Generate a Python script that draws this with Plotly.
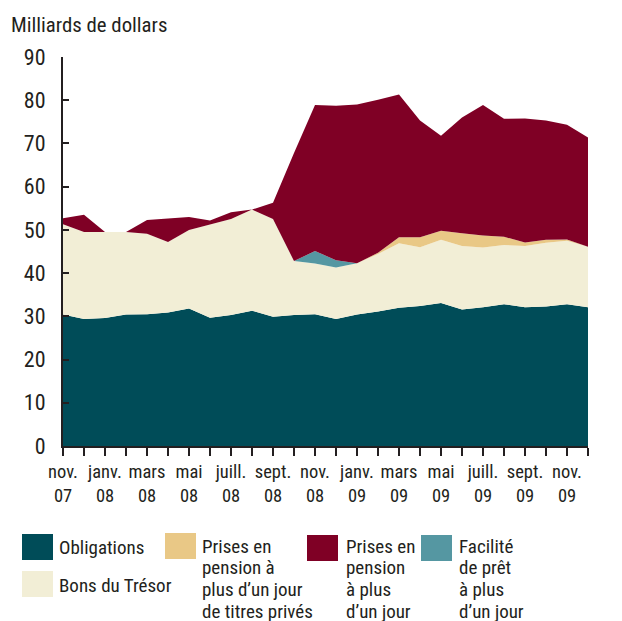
import plotly.graph_objects as go

# Months: nov. 2007 .. dec. 2009
months = ["2007-11", "2007-12", "2008-01", "2008-02", "2008-03", "2008-04", "2008-05",
          "2008-06", "2008-07", "2008-08", "2008-09", "2008-10", "2008-11", "2008-12",
          "2009-01", "2009-02", "2009-03", "2009-04", "2009-05", "2009-06", "2009-07",
          "2009-08", "2009-09", "2009-10", "2009-11", "2009-12"]
tick_labels = ["nov.<br>07", "", "janv.<br>08", "", "mars<br>08", "", "mai<br>08", "",
               "juill.<br>08", "", "sept.<br>08", "", "nov.<br>08", "", "janv.<br>09", "",
               "mars<br>09", "", "mai<br>09", "", "juill.<br>09", "", "sept.<br>09", "",
               "nov.<br>09", ""]

obligations = [30.4, 29.4, 29.6, 30.4, 30.5, 30.9, 31.8, 29.7, 30.3, 31.3, 29.9, 30.3, 30.5,
               29.4, 30.4, 31.1, 32.0, 32.4, 33.1, 31.6, 32.1, 32.8, 32.1, 32.3, 32.8, 32.1]
bons_tresor = [20.9, 20.1, 19.9, 19.1, 18.6, 16.3, 18.2, 21.6, 22.2, 23.4, 22.6, 12.5, 11.7,
               11.9, 11.9, 13.3, 14.9, 13.6, 14.6, 14.7, 13.8, 13.7, 14.2, 14.7, 14.7, 14.0]
pension_prives = [0, 0, 0, 0, 0, 0, 0, 0, 0, 0, 0, 0, 0,
                  0, 0, 0.3, 1.4, 2.3, 2.1, 2.9, 2.8, 1.9, 0.8, 0.7, 0.3, 0]
facilite_pret = [0, 0, 0, 0, 0, 0, 0, 0, 0, 0, 0, 0, 2.9,
                 1.7, 0, 0, 0, 0, 0, 0, 0, 0, 0, 0, 0, 0]
pension = [1.4, 4.0, 0, 0, 3.2, 5.5, 3.0, 0.9, 1.6, 0, 3.8, 25.0, 33.8,
           35.7, 36.7, 35.4, 33.0, 27.0, 22.0, 26.8, 30.2, 27.3, 28.7, 27.6, 26.5, 25.3]

series = [
    ("Obligations", obligations, "#004c58"),
    ("Bons du Trésor", bons_tresor, "#f2eed6"),
    ("Prises en pension à plus d’un jour de titres privés", pension_prives, "#e9c886"),
    ("Facilité de prêt à plus d’un jour", facilite_pret, "#5597a2"),
    ("Prises en pension à plus d’un jour", pension, "#7f0025"),
]

x = list(range(len(months)))
FONT = "Roboto Condensed, Liberation Sans Narrow, Lato, sans-serif"
TXT = "#231f20"

fig = go.Figure()
for name, vals, col in series:
    fig.add_trace(go.Scatter(
        x=x, y=vals, name=name, mode="lines", stackgroup="one",
        line=dict(width=0, color=col), fillcolor=col,
        customdata=months, hovertemplate="%{customdata}: %{y}<extra>" + name + "</extra>",
    ))

# page has an 8px body margin: figure drawn at (8, 8)
OFF = 8
W, H = 622 - OFF, 621 - OFF
X0, X1, Y0, Y1 = 63, 588, 57, 446  # plot area in page pixels
L, R, T, B = X0 - OFF, 622 - X1, Y0 - OFF, 621 - Y1


def px(xp):
    return (xp - X0) / (X1 - X0)


def py(yp):
    return (Y1 - yp) / (Y1 - Y0)


LINE = 21.7
legend_items = [
    (22, 534, 57, 547, ["Obligations"], "#004c58"),
    (22, 571, 57, 585, ["Bons du Trésor"], "#f2eed6"),
    (165, 533, 200, 546, ["Prises en", "pension à", "plus d’un jour", "de titres privés"], "#e9c886"),
    (307, 535, 344, 546, ["Prises en", "pension", "à plus", "d’un jour"], "#7f0025"),
    (421, 535, 457, 546, ["Facilité", "de prêt", "à plus", "d’un jour"], "#5597a2"),
]
shapes = []
annotations = []
for sx, sy, tx, ty, lines, col in legend_items:
    shapes.append(dict(type="rect", xref="paper", yref="paper",
                       x0=px(sx), x1=px(sx + 31), y0=py(sy + 26), y1=py(sy),
                       fillcolor=col, line=dict(width=0), layer="above"))
    for k, line in enumerate(lines):
        annotations.append(dict(xref="paper", yref="paper", x=px(tx), y=py(ty + k * LINE),
                                xanchor="left", yanchor="middle", align="left",
                                text=line, showarrow=False,
                                font=dict(size=19, color=TXT, family=FONT)))

annotations.append(dict(xref="paper", yref="paper", x=px(9), y=py(25),
                        xanchor="left", yanchor="middle", text="Milliards de dollars",
                        showarrow=False, font=dict(size=20.8, color=TXT, family=FONT)))

fig.update_layout(
    width=W, height=H,
    margin=dict(l=L, r=R, t=T, b=B, pad=0),
    paper_bgcolor="white", plot_bgcolor="white",
    showlegend=False,
    font=dict(family=FONT, color=TXT, size=17),
    shapes=shapes, annotations=annotations,
    xaxis=dict(
        range=[0, 25], tickmode="array", tickvals=x, ticktext=tick_labels,
        ticks="outside", ticklen=8, tickwidth=2, tickcolor=TXT,
        showline=True, linewidth=2, linecolor=TXT, showgrid=False, zeroline=False,
        tickfont=dict(size=18.5, color=TXT, family=FONT), tickangle=0,
    ),
    yaxis=dict(
        range=[0, 90], tickvals=[0, 10, 20, 30, 40, 50, 60, 70, 80, 90],
        ticks="inside", ticklen=6, tickwidth=2, tickcolor=TXT,
        showline=True, linewidth=2, linecolor=TXT, showgrid=False, zeroline=False,
        tickfont=dict(size=22, color=TXT, family=FONT), ticklabelstandoff=11,
    ),
)

fig.write_html("out.html")
